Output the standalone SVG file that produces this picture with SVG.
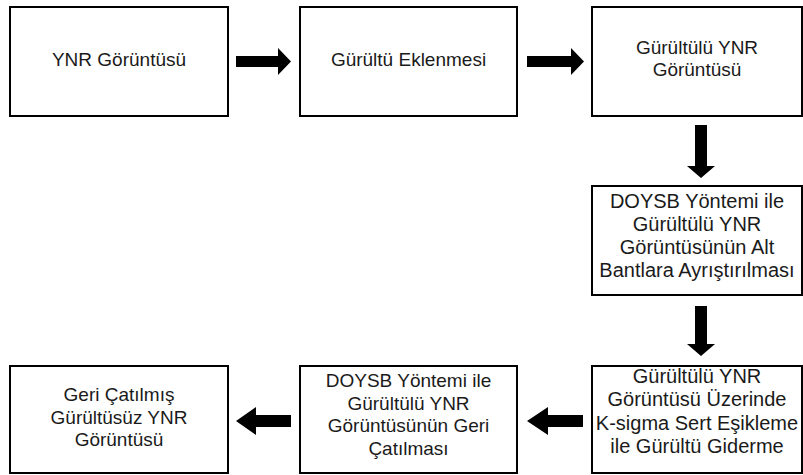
<svg xmlns="http://www.w3.org/2000/svg" width="803" height="475" viewBox="0 0 803 475">
<style>
.box{fill:#fff;stroke:#000;stroke-width:2}
.t{font-family:"Liberation Sans",Arial,sans-serif;font-size:19px;fill:#1a1a1a;text-anchor:middle}
.t2{font-size:20px}
.arr{fill:#000}
</style>
<rect width="803" height="475" fill="#fff"/>
<g id="n1"><rect class="box" x="10" y="7" width="218" height="109"/><text class="t" x="119" y="66">YNR Görüntüsü</text></g>
<g id="n2"><rect class="box" x="300" y="7" width="217" height="109"/><text class="t" x="408.5" y="66">Gürültü Eklenmesi</text></g>
<g id="n3"><rect class="box" x="592" y="7" width="210" height="109"/><text class="t" x="697"><tspan x="697" y="54">Gürültülü YNR</tspan><tspan x="697" y="76">Görüntüsü</tspan></text></g>
<g id="n4"><rect class="box" x="592" y="186" width="210" height="109"/><text class="t t2" x="697"><tspan x="697" y="208">DOYSB Yöntemi ile</tspan><tspan x="697" y="231">Gürültülü YNR</tspan><tspan x="697" y="254">Görüntüsünün Alt</tspan><tspan x="697" y="277">Bantlara Ayrıştırılması</tspan></text></g>
<g id="n5"><rect class="box" x="592" y="366" width="210" height="107"/><text class="t t2" x="697"><tspan x="697" y="383">Gürültülü YNR</tspan><tspan x="697" y="406">Görüntüsü Üzerinde</tspan><tspan x="697" y="430">K-sigma Sert Eşikleme</tspan><tspan x="697" y="453">ile Gürültü Giderme</tspan></text></g>
<g id="n6"><rect class="box" x="300" y="366" width="217" height="107"/><text class="t" x="408.5"><tspan x="408.5" y="387">DOYSB Yöntemi ile</tspan><tspan x="408.5" y="410">Gürültülü YNR</tspan><tspan x="408.5" y="432">Görüntüsünün Geri</tspan><tspan x="408.5" y="455">Çatılması</tspan></text></g>
<g id="n7"><rect class="box" x="10" y="366" width="218" height="107"/><text class="t" x="119"><tspan x="119" y="401">Geri Çatılmış</tspan><tspan x="119" y="424">Gürültüsüz YNR</tspan><tspan x="119" y="446">Görüntüsü</tspan></text></g>
<g id="connectors">
<polygon class="arr" points="236,56 278,56 278,48 291,61.5 278,75 278,67 236,67"/>
<polygon class="arr" points="527,56 571,56 571,48 584,61.5 571,75 571,67 527,67"/>
<polygon class="arr" points="695,125 707,125 707,166 715,166 701,178 687,166 695,166"/>
<polygon class="arr" points="695,306 707,306 707,344 715,344 701,356 687,344 695,344"/>
<polygon class="arr" points="583,415 548,415 548,407 527,421 548,435 548,427 583,427"/>
<polygon class="arr" points="291,415 256,415 256,407 236,421 256,435 256,427 291,427"/>
</g>
</svg>
